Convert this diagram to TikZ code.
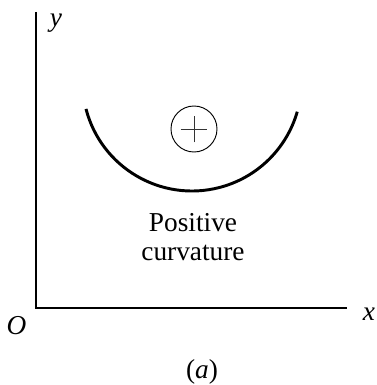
\documentclass[tikz,border=0pt]{standalone}
\usepackage{fontspec}
\setmainfont{Liberation Serif}
\usepackage{tikz}

\begin{document}
\begin{tikzpicture}[x=0.75pt, y=0.75pt, font=\fontsize{20.5}{21.5}\selectfont]
  \useasboundingbox (-36,-77) rectangle (340,308);
  % axes
  \draw[line width=0.8pt] (0,296) -- (0,0) -- (311,0);
  \node (ylabel) at (20,285) {\textit{y}};
  \node (xlabel) at (333,-6) {\textit{x}};
  \node (origin) at (-19.5,-17.5) {\textit{O}};
  % curve bending upward
  \draw[line width=2.2pt] (156,226.5) ++(194.5:109.5) arc[start angle=194.5, end angle=344, radius=109.5];
  % sign of the curvature
  \node[draw, circle, line width=0.7pt, minimum size=34.5pt, inner sep=0pt] (sign) at (158,179) {};
  \draw[line width=0.6pt, black!80] ([xshift=-10pt]sign.center) -- ([xshift=10pt]sign.center);
  \draw[line width=0.6pt, black!80] ([yshift=-10pt]sign.center) -- ([yshift=10pt]sign.center);
  \node[align=center] (label) at (157,71) {Positive\\curvature};
  \node (caption) at (166,-64) {(\textit{a})};
\end{tikzpicture}
\end{document}
